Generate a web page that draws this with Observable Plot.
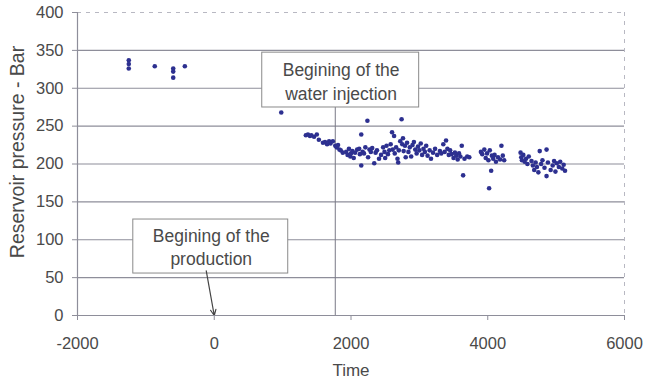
<!DOCTYPE html>
<html><head><meta charset="utf-8">
<script src="https://cdn.jsdelivr.net/npm/d3@7"></script>
<script src="https://cdn.jsdelivr.net/npm/@observablehq/plot@0.6"></script>
<style>body{margin:0;background:#fff} svg{display:block}</style>
</head><body><div id="chart"></div>
<script>
// Measurements: time and reservoir pressure (bar)
const times = [
 -1250,-1250,-1250,-870,-600,-600,-600,-430,
 980,
 1340,1370,1400,1420,1460,1500,1530,1590,1620,1650,1680,1700,1735,1770,1790,1810,1830,1850,1880,1930,1950,1970,1990,2000,2020,2040,2060,2090,2120,2130,2150,2150,2170,2190,2210,2240,2250,2270,2290,2310,2340,2360,2380,2410,2440,2470,2490,2500,2520,2540,2560,2580,2600,2610,2630,2640,2660,2680,2690,2700,2720,2740,2750,2760,2770,2790,2800,2820,2840,2860,2880,2900,2920,2940,2960,2980,3000,3020,3040,3060,3080,3100,3120,3150,3170,3200,3230,3260,3300,3320,3350,3370,3390,3410,3430,3450,3470,3500,3520,3540,3560,3580,3600,3620,3640,3660,3700,3730,
 3900,3920,3950,3970,3990,4010,4020,4030,4050,4060,4080,4100,4120,4150,4180,4200,4220,4240,
 4480,4490,4500,4520,4540,4560,4580,4600,4640,4660,4680,4700,4720,4740,4760,4780,4800,4830,4860,4860,4880,4920,4950,4970,4990,5010,5040,5060,5090,5110,5130
];
const pressures = [
 337,332,326,329,326,322,314,329,
 268,
 238,239,237,238,236,239,232,228,229,226,230,227,230,224,222,225,219,218,215,216,212,220,210,214,217,208,215,219,220,213,239,198,216,214,222,257,209,219,216,221,201,215,218,207,212,222,216,208,224,213,218,226,242,219,237,214,222,207,202,218,230,259,226,234,217,224,209,228,216,222,210,225,229,219,214,223,218,227,212,220,216,224,211,218,207,215,220,212,217,214,226,216,231,220,212,218,213,208,215,211,206,214,210,224,185,207,210,209,
 216,213,219,208,214,205,168,218,191,211,207,212,203,209,206,224,211,205,
 215,209,205,212,203,207,200,210,204,198,192,202,196,189,217,200,205,195,219,184,202,192,198,204,190,201,196,203,194,199,191
];
const xTicks = [-2000, 0, 2000, 4000, 6000];
const yTicks = [0, 50, 100, 150, 200, 250, 300, 350, 400];
const gridLevels = [50, 100, 150, 200, 250, 300, 350];

// Annotations (in data units)
const injectionTime = 1770;
const boxes = [
  {x1: 702, x2: 2997, y1: 274.6, y2: 347, cx: 1855, cy: 310.5, label: "Begining of the\nwater injection"},
  {x1: -1184, x2: 1082, y1: 55.4, y2: 126.7, cx: -44, cy: 92, label: "Begining of the\nproduction"}
];
const arrowFrom = {x: -117, y: 59};
const arrowTo = {x: 0, y: 0};

const points = times.map((t, i) => ({t, p: pressures[i]}));

const font = "Liberation Sans, Arial, sans-serif";
const ink = "#4a4a4a";
const grid = "#8e8e9a";

const chart = Plot.plot({
  width: 645,
  height: 387,
  marginLeft: 77,
  marginRight: 21,
  marginTop: 12,
  marginBottom: 72,
  style: {fontFamily: font, fontSize: "16.5px", color: ink, background: "#fff"},
  x: {domain: [-2000, 6000], ticks: xTicks},
  y: {domain: [0, 400], ticks: yTicks},
  marks: [
    Plot.ruleY(gridLevels, {stroke: grid, strokeWidth: 1.2}),
    Plot.ruleY([400], {stroke: "#b8b8c2", strokeDasharray: "4,5"}),
    Plot.ruleX([6000], {stroke: "#b8b8c2", strokeDasharray: "4,5"}),
    Plot.ruleX([injectionTime], {y1: 0, y2: boxes[0].y1, stroke: "#7a7a86"}),
    Plot.rect(boxes, {x1: "x1", x2: "x2", y1: "y1", y2: "y2", fill: "#fff", stroke: "#8a8a8a", strokeWidth: 1}),
    Plot.text(boxes, {x: "cx", y: "cy", text: "label", fill: ink, fontSize: 17.5, lineHeight: 1.35}),
    Plot.arrow([{x1: arrowFrom.x, y1: arrowFrom.y, x2: arrowTo.x, y2: arrowTo.y}], {x1: "x1", y1: "y1", x2: "x2", y2: "y2", stroke: "#444", strokeWidth: 1.2, headLength: 8, headAngle: 50}),
    Plot.axisY({ticks: yTicks, tickSize: 5, tickPadding: 9, label: null, stroke: grid, color: ink, fontSize: 16.5, tickFormat: d => String(d)}),
    Plot.axisX({ticks: xTicks, tickSize: 5, tickPadding: 17, label: null, stroke: grid, color: ink, fontSize: 16.5, tickFormat: d => String(d)}),
    Plot.ruleY([0], {stroke: grid, strokeWidth: 1.2}),
    Plot.ruleX([-2000], {stroke: grid, strokeWidth: 1.2}),
    Plot.dot(points, {x: "t", y: "p", r: 2.3, fill: "#2d3090", stroke: "none"}),
    Plot.text(["Time"], {frameAnchor: "bottom", dy: 60, fill: ink, fontSize: 17}),
    Plot.text(["Reservoir pressure - Bar"], {frameAnchor: "left", textAnchor: "middle", dx: -60, dy: -12, rotate: -90, fill: ink, fontSize: 19.5})
  ]
});
document.getElementById("chart").appendChild(chart);
</script>
</body></html>
